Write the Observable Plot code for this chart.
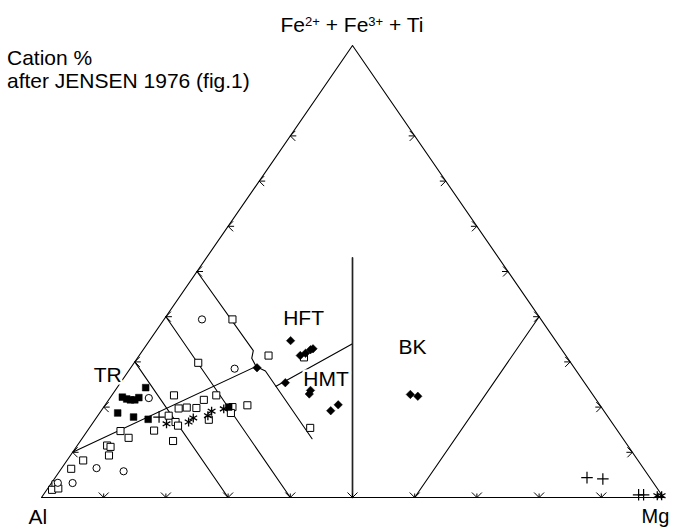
<!DOCTYPE html>
<html><head><meta charset="utf-8">
<script src="https://cdn.jsdelivr.net/npm/d3@7"></script>
<script src="https://cdn.jsdelivr.net/npm/@observablehq/plot@0.6"></script>
<style>
body{margin:0;background:#fff;}
#wrap{position:relative;width:675px;height:528px;font-family:"Liberation Sans",Arial,sans-serif;color:#000;}
.note{position:absolute;font-size:21px;line-height:23px;white-space:nowrap;}
.note sup{font-size:0.62em;position:relative;top:-0.5em;vertical-align:baseline;line-height:0;}
</style></head><body>
<div id="wrap">
  <div class="note" style="left:7px;top:46px;">Cation %<br>after JENSEN 1976 (fig.1)</div>
  <div class="note" style="left:352px;top:13px;transform:translateX(-50%);">Fe<sup>2+</sup> + Fe<sup>3+</sup> + Ti</div>
</div>
<script>
// All values: cation %, pairs [Fe+Ti, Mg]; Al = 100 - Fe - Mg
const triangle = [[0,0],[0,100],[100,0],[0,0]];
const al70Line = [[30,0],[0,30]];
const al60Line = [[40,0],[0,40]];
const al50Line = [[50,0],[32.5,17.8],[30.8,18.4],[29,20],[28,22],[13,37]];
const thCaLine = [[10,0],[29,20]];
const hftHmtLine = [[24.6,25.4],[34,33]];
const komLine = [[0,50],[53,23.5]];
const pkLine = [[0,60],[40,60]];

const leftTicks = [10,20,30,40,50,60,70,80];   // Fe+Ti % on Al–Fe side
const rightTicks = [10,20,30,40,50,60,70,80];  // Fe+Ti % on Fe–Mg side
const baseTicks = [10,20,30,40,50,60,70,80,90]; // Mg % on Al–Mg side

const openSquares = [[22.6,10.0],[21.6,15.3],[22.6,16.8],[20.4,22.9],[19.7,12.2],[19.9,13.4],[19.8,15.0],[18.1,11.4],[16.7,13.2],[15.9,14.0],[17.2,18.3],[20.0,20.7],[18.7,21.1],[14.8,10.7],[14.7,5.35],[13.2,7.4],[12.5,14.9],[11.5,4.8],[11.2,5.5],[9.3,6.2],[8.2,2.6],[6.35,1.6],[2.9,0.8],[1.7,0.85],[2.0,1.7],[39.4,11.0],[29.8,10.3],[31.4,20.8],[31.0,26.7],[15.4,35.5]];
const openCircles = [[22.0,6.25],[6.5,5.6],[5.8,10.3],[3.2,3.4],[3.25,1.0],[39.4,6.1],[28.5,16.8]];
const filledSquares = [[24.3,4.6],[22.2,1.9],[21.8,2.8],[21.6,3.5],[21.6,4.2],[22.1,4.6],[18.7,2.9],[17.8,5.9],[17.3,8.5],[20.0,20.1]];
const pluses = [[17.8,10.0],[4.4,85.5],[4.1,88.2],[0.6,95.7],[0.6,96.5]];
const asterisks = [[16.3,11.95],[16.7,15.3],[17.6,15.6],[18.1,17.7],[19.1,17.8],[19.6,19.5],[0.4,98.8],[0.4,99.5]];
const diamonds = [[28.7,20.3],[34.7,22.7],[31.4,25.9],[31.9,26.5],[32.7,26.9],[32.9,27.2],[25.4,26.5],[23.7,31.4],[22.9,31.6],[19.2,36.9],[20.5,37.45],[22.8,47.9],[22.4,49.3]];

const fieldLabels = [
  {text:"TR", fe:27.0, mg:-5.1},
  {text:"HFT", fe:39.7, mg:19.0},
  {text:"HMT", fe:26.2, mg:29.0},
  {text:"BK", fe:33.2, mg:40.8}
];

// ternary -> plot coordinates
const X = d => d[1]/100 + d[0]/200;
const Y = d => d[0]/100;

const lines = [];
[["tri",triangle],["a70",al70Line],["a60",al60Line],["a50",al50Line],["thca",thCaLine],["hh",hftHmtLine],["pk",pkLine]]
  .forEach(([id, pts]) => pts.forEach(p => lines.push({id, x: X(p), y: Y(p)})));
const komPts = komLine.map(p => ({x: X(p), y: Y(p)}));

const chevron = (shaft) => ({
  draw(ctx, size) {
    const r = Math.sqrt(size / Math.PI);
    ctx.moveTo(r, -r); ctx.lineTo(0, 0); ctx.lineTo(r, r);
    if (shaft > 0) { ctx.moveTo(0, 0); ctx.lineTo(shaft, 0); }
  }
});

const pt = arr => arr.map(d => ({x: X(d), y: Y(d)}));

const chart = Plot.plot({
  width: 675, height: 528,
  marginLeft: 41, marginRight: 12, marginTop: 45, marginBottom: 31,
  x: {domain: [0, 1], axis: null},
  y: {domain: [0, 1], axis: null},
  style: {fontFamily: "'Liberation Sans', Arial, sans-serif", background: "transparent", overflow: "visible"},
  marks: [
    Plot.line(lines, {x: "x", y: "y", z: "id", stroke: "black", strokeWidth: 1.1}),
    Plot.line(komPts, {x: "x", y: "y", stroke: "#222", strokeWidth: 1.7}),
    Plot.dot(leftTicks.map(f => ({x: X([f,0]), y: Y([f,0])})), {x:"x", y:"y", symbol: chevron(6), r: 5, stroke:"black", fill:"none", strokeWidth:1}),
    Plot.dot(rightTicks.map(f => ({x: X([f,100-f]), y: Y([f,100-f])})), {x:"x", y:"y", symbol: chevron(6), r: 5, rotate: 180, stroke:"black", fill:"none", strokeWidth:1}),
    Plot.dot(baseTicks.map(m => ({x: X([0,m]), y: Y([0,m])})), {x:"x", y:"y", symbol: chevron(4), r: 5, rotate: -90, stroke:"black", fill:"none", strokeWidth:1}),
    Plot.text(fieldLabels.map(d => ({...d, x: X([d.fe,d.mg]), y: Y([d.fe,d.mg])})), {x:"x", y:"y", text:"text", textAnchor:"start", lineAnchor:"middle", fontSize: 21, fill:"black", stroke:"white", strokeWidth: 5, paintOrder:"stroke"}),
    Plot.text([{t:"Al", x: X([0,0]), y: Y([0,0])}], {x:"x", y:"y", text:"t", textAnchor:"start", lineAnchor:"middle", dx:-13, dy:20, fontSize:21, fill:"black"}),
    Plot.text([{t:"Mg", x: X([0,100]), y: Y([0,100])}], {x:"x", y:"y", text:"t", textAnchor:"start", lineAnchor:"middle", dx:-22, dy:19, fontSize:20, fill:"black"}),
    Plot.dot(pt(openSquares), {x:"x", y:"y", symbol:"square", r:4, fill:"white", stroke:"black", strokeWidth:1}),
    Plot.dot(pt(openCircles), {x:"x", y:"y", symbol:"circle", r:3.6, fill:"white", stroke:"black", strokeWidth:1}),
    Plot.dot(pt(filledSquares), {x:"x", y:"y", symbol:"square", r:3.8, fill:"black", stroke:"black", strokeWidth:0.5}),
    Plot.dot(pt(diamonds), {x:"x", y:"y", symbol:"diamond2", r:3.8, fill:"black", stroke:"black", strokeWidth:0.5}),
    Plot.dot(pt(pluses), {x:"x", y:"y", symbol:"plus", r:3.8, stroke:"black", strokeWidth:1.2}),
    Plot.dot(pt(asterisks), {x:"x", y:"y", symbol:"asterisk", r:4.2, stroke:"black", strokeWidth:1.3})
  ]
});
chart.style.position = "absolute";
chart.style.left = "0";
chart.style.top = "0";
document.getElementById("wrap").appendChild(chart);
</script>
</body></html>
